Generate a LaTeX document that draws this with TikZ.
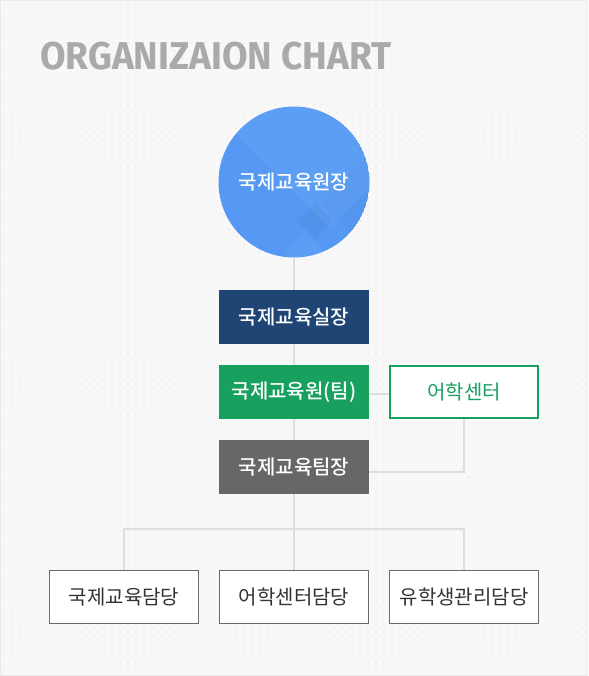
\documentclass[tikz,border=0pt]{standalone}
\usepackage{fontspec}
\setmainfont{Fira Sans}
\newfontfamily\kr{Noto Sans CJK KR}
\newfontfamily\krm{Noto Sans CJK KR Medium}
\newfontfamily\ttlfont{Fira Sans}
\definecolor{bgc}{HTML}{F8F8F8}
\definecolor{dotc}{HTML}{E8E8E8}
\definecolor{framec}{HTML}{EBEBEB}
\definecolor{ttlc}{HTML}{AAAAAA}
\definecolor{circc}{HTML}{5599F5}
\definecolor{navyc}{HTML}{1F4574}
\definecolor{greenc}{HTML}{18A05E}
\definecolor{grayc}{HTML}{676767}
\definecolor{linec}{HTML}{DDDDDD}
\definecolor{txtc}{HTML}{333333}
\definecolor{bordc}{HTML}{6A6A6A}
\tikzset{
  x=1pt, y=-1pt,
  conn/.style={draw=linec, line width=2pt},
  headbox/.style={rectangle, minimum width=150pt, minimum height=54pt, inner sep=0pt,
    text=white, font=\krm\fontsize{20}{22}\selectfont},
  staffbox/.style={rectangle, draw=bordc, fill=white, line width=1pt,
    minimum width=149pt, minimum height=53pt, inner sep=0pt,
    text=txtc, font=\kr\fontsize{20}{22}\selectfont},
  centerbox/.style={rectangle, draw=greenc, fill=white, line width=2pt,
    minimum width=148pt, minimum height=52pt, inner sep=0pt,
    text=greenc, font=\kr\fontsize{20}{22}\selectfont},
}
\begin{document}
\begin{tikzpicture}
% background
\fill[bgc] (0,0) rectangle (588,676);
\useasboundingbox (0,0) rectangle (588,676);
\fill[dotc] \foreach \i in {0,...,75}{\foreach \j in {0,...,87}{
  (3.4+\i*7.75, 3.6+\j*7.75) rectangle +(1.3,1.3)}};
\draw[framec, line width=1pt] (0.5,0.5) rectangle (587.5,675.5);

% title
\node[anchor=base west, inner sep=0pt, text=ttlc] (title) at (40,70)
  {\resizebox{351pt}{27.5pt}{\ttlfont\bfseries ORGANIZAION CHART}};

% circle
\begin{scope}
  \clip (294,182) circle (75.5);
  \fill[circc] (294,182) circle (75.5);
  \fill[white, opacity=0.05] (330,228) -- (230,128) -- (330,28) -- (430,128) -- cycle;
  \fill[black, opacity=0.025] (380,143) -- (320,203) -- (380,263) -- (440,203) -- cycle;
  \fill[black, opacity=0.04] (315,203) -- (333,221) -- (315,239) -- (297,221) -- cycle;
  \fill[white, opacity=0.05] (305,232) -- (325,252) -- (305,272) -- (285,252) -- cycle;
\end{scope}
\node[circle, minimum size=151pt, inner sep=0pt, text=white,
  font=\krm\fontsize{20}{22}\selectfont] (head) at (294,182) {국제교육원장};

% main column
\node[headbox, fill=navyc] (dir) at (294,317) {국제교육실장};
\node[headbox, fill=greenc] (inst) at (294,392) {국제교육원(팀)};
\node[headbox, fill=grayc] (lead) at (294,467) {국제교육팀장};
\node[centerbox] (lang) at (464,392) {어학센터};

% staff
\node[staffbox] (s1) at (124,597) {국제교육담당};
\node[staffbox] (s2) at (294,597) {어학센터담당};
\node[staffbox] (s3) at (464,597) {유학생관리담당};

% connectors
\coordinate (bus) at (294,529);
\draw[conn] (head.south) -- (dir.north);
\draw[conn] (dir.south) -- (inst.north);
\draw[conn] (inst.south) -- (lead.north);
\draw[conn] (inst.east |- 0,394) -- (lang.west |- 0,394);
\draw[conn] (lang.south) |- (lead.east |- 0,472);
\draw[conn] (lead.south) -- (bus);
\draw[conn] (s1.north) |- (bus) -| (s3.north);
\draw[conn] (bus) -- (s2.north);
\end{tikzpicture}
\end{document}
